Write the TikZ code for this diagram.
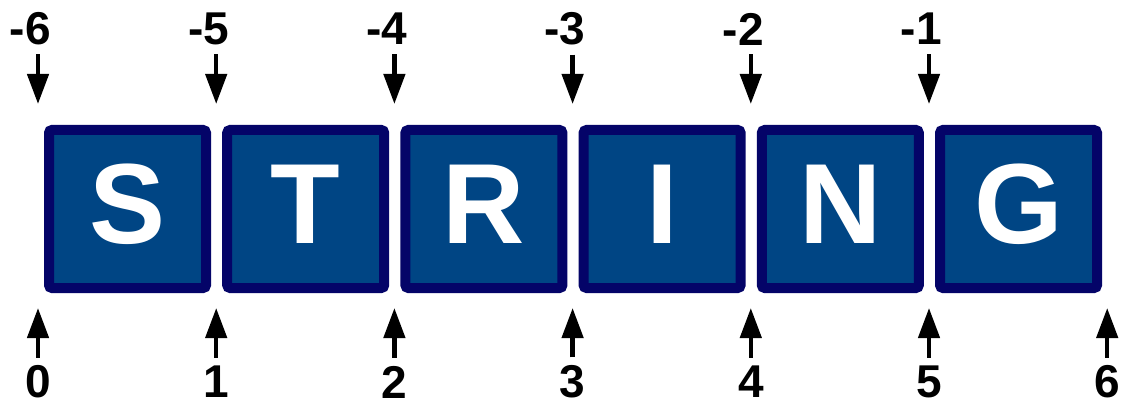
\documentclass[tikz,border=0pt]{standalone}
\usepackage{fontspec}
\setmainfont{Liberation Sans}
\usetikzlibrary{arrows.meta}
\definecolor{cellfill}{RGB}{0,69,132}
\definecolor{cellborder}{RGB}{4,4,104}
\tikzset{
  cell/.style={draw=cellborder, fill=cellfill, line width=10pt, rounded corners=3pt,
    minimum width=157pt, minimum height=158pt, inner sep=0pt, text=white, text depth=10pt,
    font=\fontsize{114}{114}\selectfont\bfseries},
  idx/.style={inner sep=0pt, font=\fontsize{46}{46}\selectfont\bfseries},
  ptr/.style={line width=4.5pt, -{Triangle[width=21pt,length=30pt]}}
}
\begin{document}
\begin{tikzpicture}[x=1pt,y=-1pt]
\useasboundingbox (0,0) rectangle (1126,406);
\foreach \ch [count=\i from 0] in {S,T,R,I,N,G} {
  \node[cell] (c\i) at ({127.5+178.2*\i},209) {\ch};
}
\foreach \i in {0,...,5} {
  \pgfmathtruncatemacro{\neg}{6-\i}
  \node[idx] (n\i) at ({38+178.2*\i},29) {\llap{-}\neg};
  \coordinate (t\i) at ({38+178.2*\i},104);
  \draw[ptr, shorten <=9pt] (n\i) -- (t\i);
}
\foreach \i in {0,...,6} {
  \node[idx] (p\i) at ({38+178.2*\i},382) {\i};
  \coordinate (b\i) at ({38+178.2*\i},308);
  \draw[ptr, shorten <=8pt] (p\i) -- (b\i);
}
\end{tikzpicture}
\end{document}
